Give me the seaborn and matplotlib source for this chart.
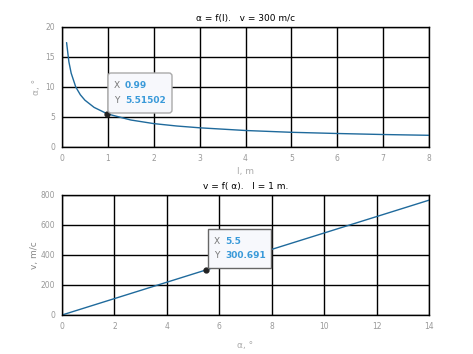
import matplotlib
matplotlib.use("Agg")
import matplotlib.pyplot as plt
import seaborn as sns
import pandas as pd
from matplotlib.patches import FancyBboxPatch

# ---- data ----
l_vals = [0.1, 0.15, 0.2, 0.3, 0.4, 0.5, 0.7, 0.99, 1.5, 2, 2.5, 3, 4, 5, 6, 7, 8]
alpha_vals = [17.4, 14.2, 12.3, 10.0, 8.7, 7.8, 6.6, 5.515, 4.5, 3.9, 3.5, 3.2, 2.75, 2.45, 2.25, 2.08, 1.95]
a_vals = [0, 5.5, 14]
v_vals = [0, 300.691, 765.5]
tip1 = (0.99, 5.51502)
tip2 = (5.5, 300.691)
top_xticks = list(range(0, 9))
top_yticks = [0, 5, 10, 15, 20]
bot_xticks = list(range(0, 15, 2))
bot_yticks = [0, 200, 400, 600, 800]

sns.set_style("white")
plt.rcParams['font.family'] = ['DejaVu Sans']

W, H = 473, 354
fig = plt.figure(figsize=(W / 100, H / 100), dpi=100)

def px_axes(x0, y0, x1, y1):
    return fig.add_axes([x0 / W, 1 - y1 / H, (x1 - x0) / W, (y1 - y0) / H])

ax1 = px_axes(62, 27, 429, 147)
ax2 = px_axes(62, 195, 429, 315)

line_color = "#1f6a9c"
tick_color = "#999999"

df1 = pd.DataFrame({"l": l_vals, "alpha": alpha_vals})
df2 = pd.DataFrame({"a": a_vals, "v": v_vals})
sns.lineplot(data=df1, x="l", y="alpha", ax=ax1, color=line_color, lw=1.0)
sns.lineplot(data=df2, x="a", y="v", ax=ax2, color=line_color, lw=1.0)

def style(ax, xt, yt):
    ax.set_xlim(xt[0], xt[-1])
    ax.set_ylim(yt[0], yt[-1])
    ax.set_xticks(xt)
    ax.set_yticks(yt)
    ax.grid(True, color="black", lw=1.0)
    ax.set_axisbelow(True)
    for s in ax.spines.values():
        s.set_color("black")
        s.set_linewidth(1.0)
    ax.tick_params(length=0, pad=5, labelsize=5.5, colors=tick_color)

style(ax1, top_xticks, top_yticks)
style(ax2, bot_xticks, bot_yticks)

ax1.set_xlabel("l, m", fontsize=6.5, color="#aaaaaa", labelpad=3)
ax1.set_ylabel("α, °", fontsize=6.5, color="#aaaaaa", labelpad=3)
ax2.set_xlabel("α, °", fontsize=6.5, color="#aaaaaa", labelpad=7)
ax2.set_ylabel("v, m/c", fontsize=6.5, color="#888888", labelpad=1)

ax1.set_title("α = f(l).   v = 300 m/c", fontsize=6.5, color="black", pad=4)
ax2.set_title("v = f( α).   l = 1 m.", fontsize=6.5, color="black", pad=4)

ax1.plot([tip1[0]], [tip1[1]], "o", color="#222222", ms=3.5, zorder=5)
ax2.plot([tip2[0]], [tip2[1]], "o", color="#222222", ms=3.5, zorder=5)

def tooltip(x0, y0, x1, y1, xs, ys, rounded, edge):
    box = FancyBboxPatch((x0 / 100, (H - y1) / 100), (x1 - x0) / 100, (y1 - y0) / 100,
                         boxstyle=("round,pad=0,rounding_size=0.03" if rounded else "square,pad=0"),
                         transform=fig.dpi_scale_trans, facecolor="#f7f8fc",
                         edgecolor=edge, lw=1.0, zorder=10)
    fig.patches.append(box)
    tx = x0 + 6
    vx = x0 + 17
    r1 = y0 + 13
    r2 = y0 + 27
    for yy, lab, val in [(r1, "X", xs), (r2, "Y", ys)]:
        fig.text(tx / W, 1 - yy / H, lab, fontsize=6.5, color="#777777", va="center", zorder=11)
        fig.text(vx / W, 1 - yy / H, val, fontsize=6.5, color="#3a9ad9", fontweight="bold",
                 va="center", zorder=11)

tooltip(108, 73, 172, 113, "0.99", "5.51502", True, "#aaaaaa")
tooltip(208, 229, 271, 268, "5.5", "300.691", False, "#666666")

fig.savefig("out.png", dpi=100)
